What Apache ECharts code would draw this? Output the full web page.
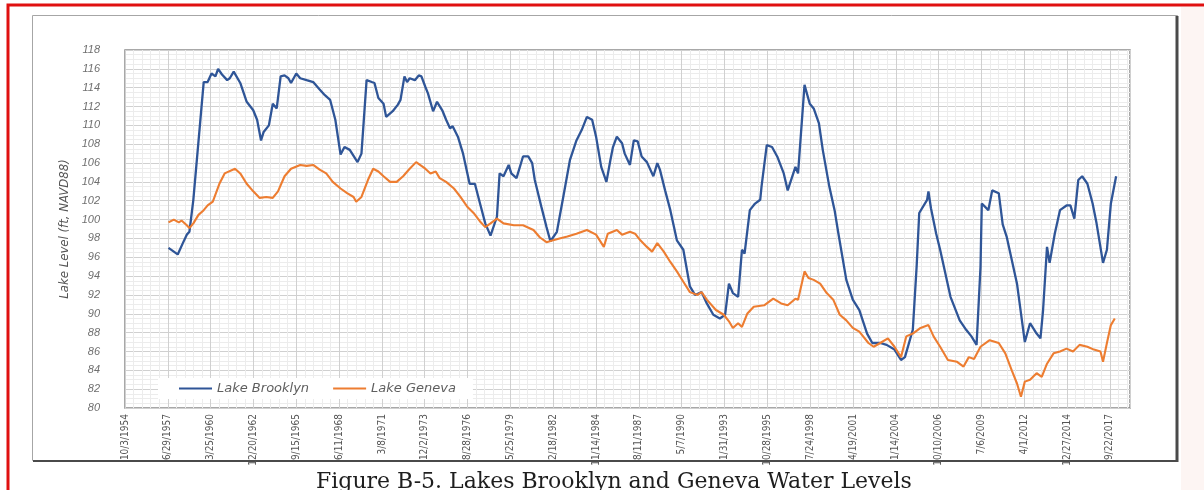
<!DOCTYPE html>
<html>
<head>
<meta charset="utf-8">
<title>Lakes Brooklyn and Geneva Water Levels</title>
<script src="https://cdn.jsdelivr.net/npm/echarts@6/dist/echarts.min.js"></script>
<style>
  html, body { margin: 0; padding: 0; background: #fff; }
  #chart { width: 1204px; height: 490px; }
</style>
</head>
<body>
<div id="chart"></div>
<script>
// values (monthly lake stage, ft NAVD88)
var brooklynDates = [
  '1957-07', '1958-02', '1958-06', '1958-09', '1958-11', '1959-02', '1959-10', '1960-01',
  '1960-04', '1960-07', '1960-09', '1960-12', '1961-04', '1961-06', '1961-09', '1962-02',
  '1962-07', '1962-12', '1963-03', '1963-06', '1963-08', '1963-12', '1964-03', '1964-06',
  '1964-09', '1964-12', '1965-03', '1965-05', '1965-09', '1965-12', '1966-05', '1966-10',
  '1967-03', '1967-07', '1967-11', '1968-03', '1968-07', '1968-10', '1969-02', '1969-08',
  '1969-11', '1970-03', '1970-07', '1970-09', '1970-12', '1971-04', '1971-06', '1971-11',
  '1972-03', '1972-05', '1972-08', '1972-10', '1972-12', '1973-04', '1973-07', '1973-09',
  '1973-12', '1974-02', '1974-06', '1974-09', '1975-01', '1975-04', '1975-07', '1975-09',
  '1976-01', '1976-05', '1976-10', '1977-02', '1977-06', '1977-10', '1978-02', '1978-07',
  '1978-09', '1978-12', '1979-04', '1979-06', '1979-10', '1980-03', '1980-07', '1980-10',
  '1980-12', '1981-05', '1981-09', '1981-12', '1982-05', '1982-10', '1983-03', '1983-08',
  '1983-12', '1984-04', '1984-08', '1984-11', '1985-03', '1985-07', '1985-10', '1985-12',
  '1986-03', '1986-07', '1986-09', '1987-01', '1987-04', '1987-07', '1987-10', '1988-02',
  '1988-07', '1988-10', '1988-12', '1989-04', '1989-08', '1990-01', '1990-06', '1990-11',
  '1991-03', '1991-08', '1991-12', '1992-05', '1992-10', '1993-02', '1993-05', '1993-08',
  '1993-12', '1994-03', '1994-05', '1994-09', '1995-01', '1995-05', '1995-06', '1995-10',
  '1996-02', '1996-06', '1996-11', '1997-02', '1997-08', '1997-10', '1998-03', '1998-07',
  '1998-10', '1999-02', '1999-05', '1999-10', '2000-02', '2000-05', '2000-11', '2001-04',
  '2001-09', '2002-03', '2002-07', '2003-01', '2003-06', '2003-12', '2004-05', '2004-08',
  '2005-02', '2005-05', '2005-07', '2006-01', '2006-02', '2006-04', '2006-08', '2006-11',
  '2007-07', '2008-02', '2008-07', '2008-11', '2009-03', '2009-06', '2009-07', '2009-12',
  '2010-03', '2010-08', '2010-11', '2011-02', '2011-10', '2012-04', '2012-08', '2013-01',
  '2013-04', '2013-06', '2013-09', '2013-11', '2014-03', '2014-07', '2014-12', '2015-03',
  '2015-06', '2015-09', '2015-12', '2016-04', '2016-08', '2016-11', '2017-04', '2017-07',
  '2017-10', '2018-02'
];
var brooklynLevels = [
  97.0, 96.3, 97.5, 98.4, 98.7, 102.1, 114.6, 114.6,
  115.5, 115.2, 116.0, 115.4, 114.8, 115.0, 115.7, 114.5,
  112.5, 111.6, 110.6, 108.4, 109.3, 110.0, 112.3, 111.8,
  115.2, 115.3, 115.0, 114.5, 115.5, 115.0, 114.8, 114.6,
  113.8, 113.2, 112.7, 110.6, 106.9, 107.7, 107.4, 106.1,
  107.0, 114.8, 114.6, 114.5, 112.9, 112.3, 110.9, 111.5,
  112.2, 112.7, 115.2, 114.6, 115.0, 114.8, 115.3, 115.2,
  114.1, 113.4, 111.5, 112.5, 111.6, 110.6, 109.7, 109.9,
  108.8, 107.0, 103.8, 103.8, 101.7, 99.6, 98.3, 100.3,
  104.9, 104.6, 105.8, 104.9, 104.4, 106.7, 106.7, 106.0,
  104.2, 101.4, 99.2, 97.7, 98.7, 102.5, 106.3, 108.4,
  109.5, 110.9, 110.6, 108.8, 105.6, 104.0, 106.3, 107.7,
  108.8, 108.1, 107.0, 105.8, 108.4, 108.3, 106.7, 106.1,
  104.6, 106.0, 105.3, 103.1, 101.0, 97.8, 96.8, 92.9,
  92.0, 92.3, 91.1, 89.9, 89.5, 89.9, 93.2, 92.2,
  91.8, 96.8, 96.4, 101.0, 101.7, 102.1, 103.5, 107.9,
  107.7, 106.7, 104.9, 103.1, 105.6, 104.9, 114.3, 112.3,
  111.8, 110.2, 107.4, 103.5, 101.0, 98.5, 93.6, 91.5,
  90.4, 87.9, 86.9, 86.9, 86.7, 86.2, 85.1, 85.4,
  88.3, 95.0, 100.7, 102.1, 103.0, 101.2, 98.5, 96.8,
  91.8, 89.3, 88.3, 87.6, 86.7, 95.0, 101.7, 101.0,
  103.1, 102.8, 99.5, 98.2, 93.2, 87.0, 89.0, 87.9,
  87.4, 90.4, 97.1, 95.4, 98.5, 101.0, 101.5, 101.5,
  100.1, 104.2, 104.6, 103.8, 101.7, 99.6, 95.4, 96.8,
  101.7, 104.6
];

var genevaDates = [
  '1957-07', '1957-11', '1958-03', '1958-05', '1958-09', '1958-11', '1959-02', '1959-06',
  '1959-10', '1960-01', '1960-05', '1960-10', '1961-02', '1961-10', '1962-02', '1962-07',
  '1962-12', '1963-05', '1963-10', '1964-03', '1964-07', '1964-12', '1965-05', '1965-12',
  '1966-05', '1966-10', '1967-03', '1967-08', '1968-01', '1968-07', '1968-12', '1969-05',
  '1969-07', '1969-11', '1970-04', '1970-08', '1970-12', '1971-04', '1971-09', '1972-02',
  '1972-07', '1972-12', '1973-05', '1973-12', '1974-04', '1974-08', '1974-11', '1975-04',
  '1975-10', '1976-03', '1976-08', '1977-01', '1977-06', '1977-10', '1978-02', '1978-07',
  '1978-12', '1979-08', '1980-03', '1980-11', '1981-04', '1981-09', '1982-02', '1982-07',
  '1983-01', '1983-08', '1984-04', '1984-11', '1985-05', '1985-08', '1986-03', '1986-07',
  '1987-01', '1987-05', '1987-09', '1988-02', '1988-06', '1988-10', '1989-03', '1989-08',
  '1990-01', '1990-06', '1990-11', '1991-05', '1991-08', '1991-12', '1992-07', '1993-01',
  '1993-05', '1993-08', '1993-12', '1994-03', '1994-07', '1994-12', '1995-08', '1996-03',
  '1996-09', '1997-02', '1997-08', '1997-10', '1998-03', '1998-06', '1998-10', '1999-03',
  '1999-08', '2000-01', '2000-06', '2000-11', '2001-04', '2001-09', '2002-04', '2002-08',
  '2003-01', '2003-07', '2003-12', '2004-05', '2004-09', '2005-02', '2005-08', '2006-02',
  '2006-06', '2006-11', '2007-05', '2007-12', '2008-05', '2008-09', '2009-01', '2009-06',
  '2010-01', '2010-08', '2011-01', '2011-06', '2011-10', '2012-01', '2012-04', '2012-08',
  '2013-01', '2013-05', '2013-09', '2014-02', '2014-07', '2014-12', '2015-05', '2015-10',
  '2016-04', '2016-09', '2017-02', '2017-04', '2017-07', '2017-10', '2018-01'
];
var genevaLevels = [
  99.7, 100.0, 99.7, 99.9, 99.4, 99.1, 99.6, 100.5,
  101.0, 101.5, 101.9, 103.8, 104.9, 105.4, 104.9, 103.8,
  103.0, 102.3, 102.4, 102.3, 103.0, 104.6, 105.4, 105.8,
  105.7, 105.8, 105.3, 104.9, 104.0, 103.3, 102.8, 102.4,
  101.9, 102.4, 104.2, 105.4, 105.1, 104.6, 104.0, 104.0,
  104.6, 105.4, 106.1, 105.4, 104.9, 105.1, 104.4, 104.0,
  103.3, 102.4, 101.4, 100.7, 99.8, 99.2, 99.6, 100.1,
  99.6, 99.4, 99.4, 98.9, 98.1, 97.6, 97.8, 98.0,
  98.2, 98.5, 98.9, 98.4, 97.1, 98.5, 98.9, 98.4,
  98.7, 98.5, 97.8, 97.1, 96.6, 97.5, 96.6, 95.5,
  94.5, 93.4, 92.3, 92.0, 92.3, 91.5, 90.4, 89.9,
  89.2, 88.5, 89.0, 88.6, 90.0, 90.75, 90.9, 91.6,
  91.1, 90.9, 91.6, 91.5, 94.5, 93.8, 93.6, 93.2,
  92.2, 91.5, 89.9, 89.3, 88.5, 88.1, 86.9, 86.5,
  86.9, 87.4, 86.5, 85.4, 87.6, 87.9, 88.5, 88.8,
  87.6, 86.5, 85.1, 84.9, 84.4, 85.4, 85.2, 86.5,
  87.2, 86.9, 85.8, 84.0, 82.6, 81.2, 82.8, 83.0,
  83.7, 83.3, 84.7, 85.8, 86.0, 86.3, 86.0, 86.7,
  86.5, 86.2, 86.0, 84.9, 86.9, 88.8, 89.5
];

// x axis is days counted from 10/3/1954, labelled every 1000 days like the original
var axisStart = Date.UTC(1954, 9, 3)
var dayMs = 86400000

function toDays(ym) {
  var p = ym.split('-')
  return Math.round((Date.UTC(+p[0], +p[1] - 1, 15) - axisStart) / dayMs)
}

function pairs(dates, levels) {
  return dates.map(function(d, i) { return [toDays(d), levels[i]] })
}

function dayLabel(v) {
  if (v % 1000 !== 0) return ''
  var d = new Date(axisStart + v * dayMs)
  return (d.getUTCMonth() + 1) + '/' + d.getUTCDate() + '/' + d.getUTCFullYear()
}

var chart = echarts.init(document.getElementById('chart'))

var labelGray = '#6f6f6f'
var narrow = "'Liberation Sans Narrow', 'DejaVu Sans Condensed', 'Liberation Sans', sans-serif"

chart.setOption({
  animation: false,
  backgroundColor: '#ffffff',
  grid: {
    left: 125,
    top: 50,
    width: 1005,
    height: 358,
    show: true,
    borderColor: '#8c8c8c',
    borderWidth: 1.5
  },
  legend: {
    left: 158,
    top: 378,
    padding: [4, 17, 4, 21],
    backgroundColor: '#ffffff',
    icon: 'rect',
    itemWidth: 33,
    itemHeight: 2,
    itemGap: 24,
    textStyle: {
      fontFamily: 'DejaVu Sans, sans-serif',
      fontStyle: 'italic',
      fontSize: 13,
      color: '#5f5f5f'
    },
    data: ['Lake Brooklyn', 'Lake Geneva']
  },
  xAxis: {
    type: 'value',
    min: 0,
    max: 23470,
    interval: 1000,
    axisLine: { show: false },
    axisTick: { show: false },
    axisLabel: {
      rotate: 90,
      margin: 6,
      showMaxLabel: false,
      fontFamily: narrow,
      fontSize: 10,
      color: '#555555',
      formatter: dayLabel
    },
    splitLine: { show: true, lineStyle: { color: '#d0d0d0', width: 1 } },
    minorTick: { show: false, splitNumber: 5 },
    minorSplitLine: { show: true, lineStyle: { color: '#ececec', width: 1 } }
  },
  yAxis: {
    type: 'value',
    min: 80,
    max: 118,
    interval: 2,
    name: 'Lake Level (ft, NAVD88)',
    nameLocation: 'middle',
    nameGap: 50,
    nameTextStyle: {
      fontFamily: narrow,
      fontStyle: 'italic',
      fontSize: 13,
      color: '#555555'
    },
    axisLine: { show: false },
    axisTick: { show: false },
    axisLabel: {
      margin: 25,
      fontFamily: 'Liberation Sans, sans-serif',
      fontStyle: 'italic',
      fontSize: 11,
      color: labelGray
    },
    splitLine: { show: true, lineStyle: { color: '#d0d0d0', width: 1 } },
    minorTick: { show: false, splitNumber: 4 },
    minorSplitLine: { show: true, lineStyle: { color: '#ececec', width: 1 } }
  },
  graphic: [
    // red outline of the scanned page
    {
      type: 'rect',
      shape: { x: 8, y: 5, width: 1210, height: 500 },
      style: { fill: null, stroke: '#e01010', lineWidth: 3 }
    },
    {
      type: 'rect',
      shape: { x: 1181, y: 7, width: 24, height: 483 },
      style: { fill: '#fdf5f3' }
    },
    // frame round the figure
    {
      type: 'rect',
      shape: { x: 32.5, y: 15.5, width: 1145, height: 445 },
      style: { fill: null, stroke: '#a6a6a6', lineWidth: 1 }
    },
    {
      type: 'line',
      shape: { x1: 1177, y1: 16, x2: 1177, y2: 462 },
      style: { stroke: '#4a4a4a', lineWidth: 3 }
    },
    {
      type: 'line',
      shape: { x1: 33, y1: 461, x2: 1178, y2: 461 },
      style: { stroke: '#4a4a4a', lineWidth: 2 }
    },
    {
      type: 'text',
      left: 316,
      top: 471,
      style: {
        text: 'Figure B-5. Lakes Brooklyn and Geneva Water Levels',
        font: '22px "DejaVu Serif", "Liberation Serif", serif',
        fill: '#1e1e1e'
      }
    }
  ],
  series: [
    {
      name: 'Lake Brooklyn',
      type: 'line',
      showSymbol: false,
      color: '#2f5597',
      lineStyle: { width: 2.3, color: '#2f5597' },
      data: pairs(brooklynDates, brooklynLevels)
    },
    {
      name: 'Lake Geneva',
      type: 'line',
      showSymbol: false,
      color: '#ed7d31',
      lineStyle: { width: 2.1, color: '#ed7d31' },
      data: pairs(genevaDates, genevaLevels)
    }
  ]
})
</script>
</body>
</html>
